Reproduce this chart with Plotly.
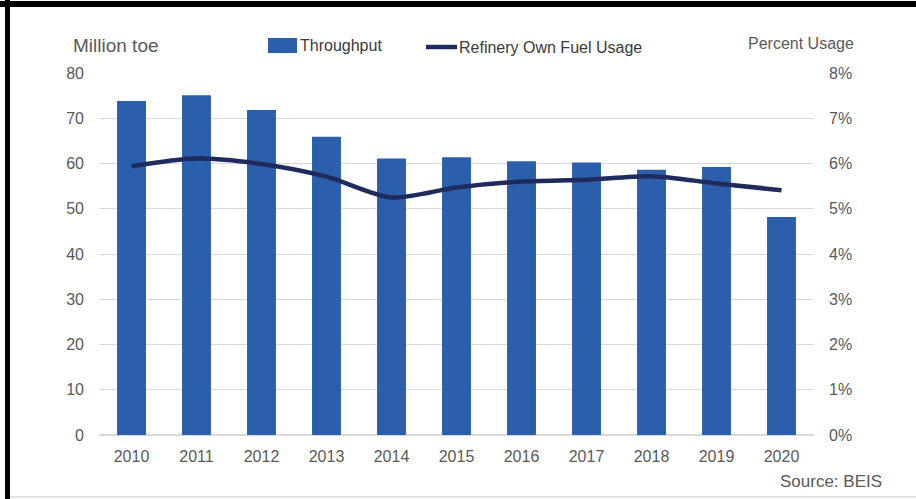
import plotly.graph_objects as go

# Refinery throughput and own-fuel usage, 2010-2020
years = ["2010", "2011", "2012", "2013", "2014", "2015", "2016", "2017", "2018", "2019", "2020"]
throughput_mtoe = [73.8, 75.1, 71.8, 65.9, 61.1, 61.4, 60.5, 60.2, 58.6, 59.2, 48.2]
own_fuel_pct = [5.94, 6.11, 5.99, 5.71, 5.25, 5.47, 5.60, 5.64, 5.72, 5.56, 5.41]

left_ticks = [0, 10, 20, 30, 40, 50, 60, 70, 80]
right_ticks = [0, 1, 2, 3, 4, 5, 6, 7, 8]

BAR = "#2b5fab"
LINE = "#1e2b5c"
TEXT = "#595959"
GRID = "#d9d9d9"
FONT = "Liberation Sans, Arial, sans-serif"

W, H = 916, 499
L, R, T, B = 99, 102, 73, 64
PW, PH = W - L - R, H - T - B


def px(x):
    return (x - L) / PW


def py(y):
    return (H - B - y) / PH


fig = go.Figure()
fig.add_trace(go.Bar(
    x=years, y=throughput_mtoe, name="Throughput",
    marker=dict(color=BAR, line=dict(width=0)), yaxis="y",
))
fig.add_trace(go.Scatter(
    x=years, y=own_fuel_pct, name="Refinery Own Fuel Usage", mode="lines",
    line=dict(color=LINE, width=4.5, shape="spline", smoothing=0.8), yaxis="y2",
))

shapes = [
    # frame edges
    dict(type="rect", xref="paper", yref="paper", x0=px(0), x1=px(W), y0=py(1), y1=py(7),
         fillcolor="black", line=dict(width=0), layer="above"),
    dict(type="rect", xref="paper", yref="paper", x0=px(5), x1=px(10), y0=py(0), y1=py(H),
         fillcolor="black", line=dict(width=0), layer="above"),
    dict(type="line", xref="paper", yref="paper", x0=px(10), x1=px(W), y0=py(497), y1=py(497),
         line=dict(color="#e2e2e2", width=2)),
    # legend swatches
    dict(type="rect", xref="paper", yref="paper", x0=px(268), x1=px(297), y0=py(38), y1=py(53),
         fillcolor=BAR, line=dict(width=0)),
    dict(type="line", xref="paper", yref="paper", x0=px(426), x1=px(457), y0=py(47), y1=py(47),
         line=dict(color=LINE, width=4.5)),
]

annotations = [
    dict(text="Million toe", xref="paper", yref="paper", x=px(71), y=py(46),
         xanchor="left", yanchor="middle", showarrow=False, font=dict(size=19, color=TEXT, family=FONT)),
    dict(text="Percent Usage", xref="paper", yref="paper", x=px(856), y=py(43),
         xanchor="right", yanchor="middle", showarrow=False, font=dict(size=16, color=TEXT, family=FONT)),
    dict(text="Throughput", xref="paper", yref="paper", x=px(298), y=py(46),
         xanchor="left", yanchor="middle", showarrow=False, font=dict(size=16, color="#3a3a3a", family=FONT)),
    dict(text="Refinery Own Fuel Usage", xref="paper", yref="paper", x=px(457), y=py(47),
         xanchor="left", yanchor="middle", showarrow=False, font=dict(size=16, color="#3a3a3a", family=FONT)),
    dict(text="Source: BEIS", xref="paper", yref="paper", x=px(884), y=py(481),
         xanchor="right", yanchor="middle", showarrow=False, font=dict(size=17, color=TEXT, family=FONT)),
]

fig.update_layout(
    width=W, height=H,
    margin=dict(l=L, r=R, t=T, b=B, pad=0),
    paper_bgcolor="white", plot_bgcolor="white",
    showlegend=False,
    bargap=0.555,
    font=dict(family=FONT, size=16, color=TEXT),
    xaxis=dict(
        type="category", showgrid=False, showline=False, zeroline=False,
        ticks="", ticklabelstandoff=10, tickfont=dict(size=16, color=TEXT),
    ),
    yaxis=dict(
        range=[0, 80], tickvals=left_ticks, ticktext=[str(v) for v in left_ticks],
        showgrid=True, gridcolor=GRID, gridwidth=1, zeroline=True, zerolinecolor=GRID,
        showline=False, ticks="", ticklabelstandoff=14, tickfont=dict(size=16, color=TEXT),
    ),
    yaxis2=dict(
        range=[0, 8], overlaying="y", side="right", tickvals=right_ticks,
        ticktext=[f"{v}%" for v in right_ticks], showgrid=False, zeroline=False,
        showline=False, ticks="", ticklabelstandoff=14, tickfont=dict(size=16, color=TEXT),
    ),
    shapes=shapes,
    annotations=annotations,
)

fig.write_html("out.html")
